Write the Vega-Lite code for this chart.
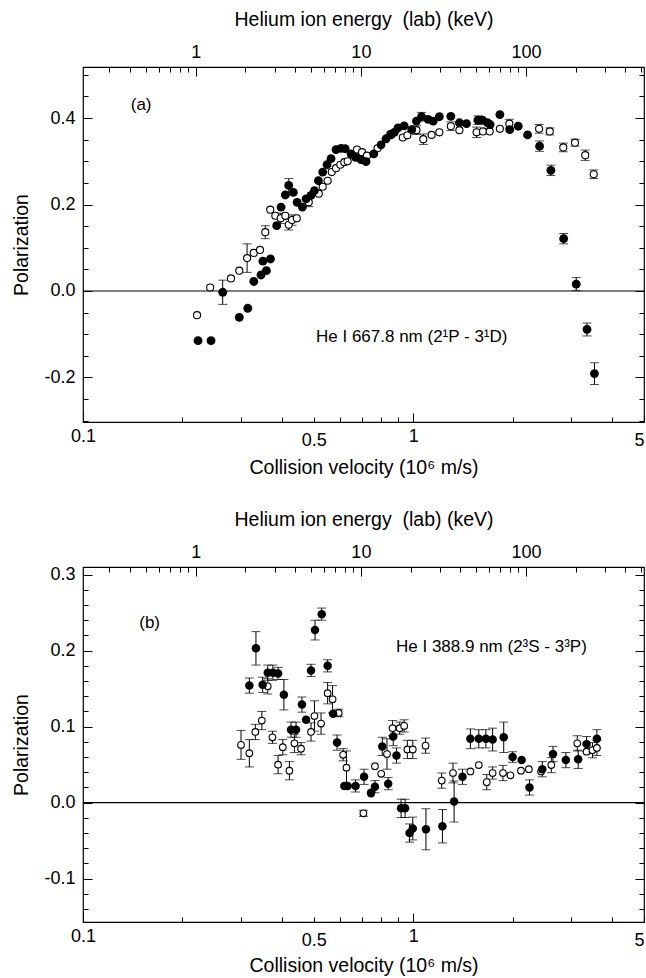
{
  "$schema": "https://vega.github.io/schema/vega-lite/v6.json",
  "padding": {"left": 11, "top": 8, "right": 0, "bottom": 0},
  "background": "white",
  "spacing": 30,
  "config": {
    "font": "Liberation Sans",
    "view": {"stroke": "black", "strokeWidth": 1.2},
    "axis": {"domain": false, "grid": false, "tickColor": "black", "tickWidth": 1, "labelColor": "black", "titleColor": "black", "labelFont": "Liberation Sans", "titleFont": "Liberation Sans", "labelFontSize": 18, "titleFontSize": 19.5, "titleFontWeight": "normal", "labelOverlap": false, "labelBound": false, "labelFlush": false}
  },
  "datasets": {
    "a": [
      {"v": 0.2215, "p": -0.056, "e": 0, "s": "o"},
      {"v": 0.2427, "p": 0.008, "e": 0, "s": "o"},
      {"v": 0.2806, "p": 0.029, "e": 0, "s": "o"},
      {"v": 0.2974, "p": 0.047, "e": 0, "s": "o"},
      {"v": 0.314, "p": 0.076, "e": 0.033, "s": "o"},
      {"v": 0.329, "p": 0.088, "e": 0, "s": "o"},
      {"v": 0.3436, "p": 0.095, "e": 0, "s": "o"},
      {"v": 0.3565, "p": 0.136, "e": 0.015, "s": "o"},
      {"v": 0.369, "p": 0.188, "e": 0, "s": "o"},
      {"v": 0.3824, "p": 0.174, "e": 0, "s": "o"},
      {"v": 0.397, "p": 0.168, "e": 0.012, "s": "o"},
      {"v": 0.41, "p": 0.174, "e": 0, "s": "o"},
      {"v": 0.4198, "p": 0.153, "e": 0.012, "s": "o"},
      {"v": 0.4296, "p": 0.164, "e": 0.012, "s": "o"},
      {"v": 0.444, "p": 0.168, "e": 0, "s": "o"},
      {"v": 0.4827, "p": 0.205, "e": 0.01, "s": "o"},
      {"v": 0.5176, "p": 0.225, "e": 0, "s": "o"},
      {"v": 0.532, "p": 0.241, "e": 0, "s": "o"},
      {"v": 0.5506, "p": 0.255, "e": 0, "s": "o"},
      {"v": 0.5666, "p": 0.275, "e": 0, "s": "o"},
      {"v": 0.5838, "p": 0.284, "e": 0, "s": "o"},
      {"v": 0.6016, "p": 0.292, "e": 0, "s": "o"},
      {"v": 0.6186, "p": 0.298, "e": 0, "s": "o"},
      {"v": 0.633, "p": 0.3, "e": 0, "s": "o"},
      {"v": 0.676, "p": 0.327, "e": 0, "s": "o"},
      {"v": 0.7, "p": 0.321, "e": 0, "s": "o"},
      {"v": 0.7245, "p": 0.313, "e": 0, "s": "o"},
      {"v": 0.78, "p": 0.33, "e": 0, "s": "o"},
      {"v": 0.853, "p": 0.363, "e": 0, "s": "o"},
      {"v": 0.93, "p": 0.355, "e": 0, "s": "o"},
      {"v": 0.96, "p": 0.36, "e": 0, "s": "o"},
      {"v": 1.023, "p": 0.372, "e": 0.01, "s": "o"},
      {"v": 1.073, "p": 0.351, "e": 0.012, "s": "o"},
      {"v": 1.137, "p": 0.361, "e": 0, "s": "o"},
      {"v": 1.2, "p": 0.367, "e": 0, "s": "o"},
      {"v": 1.3, "p": 0.381, "e": 0.01, "s": "o"},
      {"v": 1.38, "p": 0.372, "e": 0, "s": "o"},
      {"v": 1.556, "p": 0.367, "e": 0.012, "s": "o"},
      {"v": 1.627, "p": 0.369, "e": 0, "s": "o"},
      {"v": 1.705, "p": 0.369, "e": 0, "s": "o"},
      {"v": 1.83, "p": 0.375, "e": 0, "s": "o"},
      {"v": 1.955, "p": 0.387, "e": 0.01, "s": "o"},
      {"v": 2.406, "p": 0.375, "e": 0.01, "s": "o"},
      {"v": 2.592, "p": 0.369, "e": 0.008, "s": "o"},
      {"v": 2.848, "p": 0.332, "e": 0.01, "s": "o"},
      {"v": 3.09, "p": 0.343, "e": 0.008, "s": "o"},
      {"v": 3.319, "p": 0.314, "e": 0.012, "s": "o"},
      {"v": 3.521, "p": 0.27, "e": 0.01, "s": "o"},
      {"v": 0.223, "p": -0.115, "e": 0, "s": "f"},
      {"v": 0.2442, "p": -0.115, "e": 0, "s": "f"},
      {"v": 0.2649, "p": -0.003, "e": 0.028, "s": "f"},
      {"v": 0.2974, "p": -0.061, "e": 0, "s": "f"},
      {"v": 0.3155, "p": -0.04, "e": 0, "s": "f"},
      {"v": 0.329, "p": 0.022, "e": 0, "s": "f"},
      {"v": 0.346, "p": 0.037, "e": 0, "s": "f"},
      {"v": 0.3593, "p": 0.047, "e": 0, "s": "f"},
      {"v": 0.3506, "p": 0.069, "e": 0, "s": "f"},
      {"v": 0.3696, "p": 0.074, "e": 0, "s": "f"},
      {"v": 0.386, "p": 0.151, "e": 0, "s": "f"},
      {"v": 0.398, "p": 0.194, "e": 0, "s": "f"},
      {"v": 0.41, "p": 0.222, "e": 0, "s": "f"},
      {"v": 0.4198, "p": 0.244, "e": 0.016, "s": "f"},
      {"v": 0.4335, "p": 0.228, "e": 0, "s": "f"},
      {"v": 0.445, "p": 0.205, "e": 0, "s": "f"},
      {"v": 0.4617, "p": 0.194, "e": 0, "s": "f"},
      {"v": 0.4737, "p": 0.213, "e": 0, "s": "f"},
      {"v": 0.4904, "p": 0.221, "e": 0, "s": "f"},
      {"v": 0.5022, "p": 0.232, "e": 0, "s": "f"},
      {"v": 0.5164, "p": 0.255, "e": 0, "s": "f"},
      {"v": 0.532, "p": 0.275, "e": 0, "s": "f"},
      {"v": 0.5484, "p": 0.292, "e": 0, "s": "f"},
      {"v": 0.5638, "p": 0.306, "e": 0, "s": "f"},
      {"v": 0.5838, "p": 0.327, "e": 0, "s": "f"},
      {"v": 0.6045, "p": 0.33, "e": 0, "s": "f"},
      {"v": 0.622, "p": 0.329, "e": 0, "s": "f"},
      {"v": 0.6482, "p": 0.317, "e": 0, "s": "f"},
      {"v": 0.669, "p": 0.309, "e": 0, "s": "f"},
      {"v": 0.695, "p": 0.304, "e": 0, "s": "f"},
      {"v": 0.7197, "p": 0.299, "e": 0, "s": "f"},
      {"v": 0.7595, "p": 0.317, "e": 0, "s": "f"},
      {"v": 0.799, "p": 0.338, "e": 0, "s": "f"},
      {"v": 0.8274, "p": 0.352, "e": 0, "s": "f"},
      {"v": 0.857, "p": 0.361, "e": 0, "s": "f"},
      {"v": 0.877, "p": 0.367, "e": 0, "s": "f"},
      {"v": 0.8995, "p": 0.377, "e": 0, "s": "f"},
      {"v": 0.939, "p": 0.382, "e": 0, "s": "f"},
      {"v": 0.99, "p": 0.373, "e": 0, "s": "f"},
      {"v": 1.023, "p": 0.393, "e": 0, "s": "f"},
      {"v": 1.06, "p": 0.403, "e": 0.01, "s": "f"},
      {"v": 1.11, "p": 0.397, "e": 0, "s": "f"},
      {"v": 1.15, "p": 0.393, "e": 0, "s": "f"},
      {"v": 1.2, "p": 0.403, "e": 0, "s": "f"},
      {"v": 1.3, "p": 0.404, "e": 0, "s": "f"},
      {"v": 1.38, "p": 0.389, "e": 0, "s": "f"},
      {"v": 1.45, "p": 0.387, "e": 0, "s": "f"},
      {"v": 1.57, "p": 0.395, "e": 0.01, "s": "f"},
      {"v": 1.62, "p": 0.395, "e": 0, "s": "f"},
      {"v": 1.68, "p": 0.389, "e": 0, "s": "f"},
      {"v": 1.71, "p": 0.385, "e": 0, "s": "f"},
      {"v": 1.83, "p": 0.408, "e": 0, "s": "f"},
      {"v": 1.96, "p": 0.373, "e": 0, "s": "f"},
      {"v": 2.08, "p": 0.381, "e": 0, "s": "f"},
      {"v": 2.22, "p": 0.361, "e": 0, "s": "f"},
      {"v": 2.414, "p": 0.335, "e": 0.012, "s": "f"},
      {"v": 2.612, "p": 0.279, "e": 0.012, "s": "f"},
      {"v": 2.855, "p": 0.121, "e": 0.012, "s": "f"},
      {"v": 3.117, "p": 0.016, "e": 0.015, "s": "f"},
      {"v": 3.36, "p": -0.089, "e": 0.015, "s": "f"},
      {"v": 3.539, "p": -0.191, "e": 0.025, "s": "f"}
    ],
    "b": [
      {"v": 0.319, "p": 0.154, "e": 0.01, "s": "f"},
      {"v": 0.334, "p": 0.203, "e": 0.022, "s": "f"},
      {"v": 0.35, "p": 0.155, "e": 0.01, "s": "f"},
      {"v": 0.3627, "p": 0.171, "e": 0.01, "s": "f"},
      {"v": 0.376, "p": 0.171, "e": 0.01, "s": "f"},
      {"v": 0.3898, "p": 0.17, "e": 0.008, "s": "f"},
      {"v": 0.4059, "p": 0.142, "e": 0.02, "s": "f"},
      {"v": 0.4266, "p": 0.096, "e": 0.01, "s": "f"},
      {"v": 0.4418, "p": 0.096, "e": 0.01, "s": "f"},
      {"v": 0.4604, "p": 0.129, "e": 0.01, "s": "f"},
      {"v": 0.4737, "p": 0.109, "e": 0, "s": "f"},
      {"v": 0.4904, "p": 0.174, "e": 0.008, "s": "f"},
      {"v": 0.5043, "p": 0.227, "e": 0.013, "s": "f"},
      {"v": 0.5284, "p": 0.248, "e": 0.008, "s": "f"},
      {"v": 0.5506, "p": 0.18, "e": 0.008, "s": "f"},
      {"v": 0.572, "p": 0.117, "e": 0, "s": "f"},
      {"v": 0.588, "p": 0.079, "e": 0.01, "s": "f"},
      {"v": 0.6186, "p": 0.022, "e": 0, "s": "f"},
      {"v": 0.633, "p": 0.022, "e": 0, "s": "f"},
      {"v": 0.669, "p": 0.022, "e": 0.008, "s": "f"},
      {"v": 0.71, "p": 0.034, "e": 0.01, "s": "f"},
      {"v": 0.745, "p": 0.013, "e": 0, "s": "f"},
      {"v": 0.766, "p": 0.021, "e": 0.008, "s": "f"},
      {"v": 0.806, "p": 0.074, "e": 0.012, "s": "f"},
      {"v": 0.84, "p": 0.025, "e": 0.008, "s": "f"},
      {"v": 0.87, "p": 0.087, "e": 0.012, "s": "f"},
      {"v": 0.89, "p": 0.062, "e": 0.01, "s": "f"},
      {"v": 0.919, "p": -0.0075, "e": 0.012, "s": "f"},
      {"v": 0.945, "p": -0.0075, "e": 0.012, "s": "f"},
      {"v": 0.975, "p": -0.04, "e": 0.012, "s": "f"},
      {"v": 0.997, "p": -0.034, "e": 0.015, "s": "f"},
      {"v": 1.093, "p": -0.035, "e": 0.027, "s": "f"},
      {"v": 1.226, "p": -0.031, "e": 0.022, "s": "f"},
      {"v": 1.33, "p": 0.0015, "e": 0.027, "s": "f"},
      {"v": 1.41, "p": 0.034, "e": 0.01, "s": "f"},
      {"v": 1.49, "p": 0.084, "e": 0.013, "s": "f"},
      {"v": 1.58, "p": 0.084, "e": 0.012, "s": "f"},
      {"v": 1.66, "p": 0.084, "e": 0.012, "s": "f"},
      {"v": 1.74, "p": 0.083, "e": 0.015, "s": "f"},
      {"v": 1.88, "p": 0.086, "e": 0.02, "s": "f"},
      {"v": 2.0, "p": 0.06, "e": 0.007, "s": "f"},
      {"v": 2.13, "p": 0.056, "e": 0, "s": "f"},
      {"v": 2.25, "p": 0.02, "e": 0.01, "s": "f"},
      {"v": 2.46, "p": 0.044, "e": 0.01, "s": "f"},
      {"v": 2.65, "p": 0.064, "e": 0.01, "s": "f"},
      {"v": 2.9, "p": 0.056, "e": 0.01, "s": "f"},
      {"v": 3.16, "p": 0.057, "e": 0.012, "s": "f"},
      {"v": 3.35, "p": 0.077, "e": 0.01, "s": "f"},
      {"v": 3.6, "p": 0.084, "e": 0.012, "s": "f"},
      {"v": 0.301, "p": 0.076, "e": 0.019, "s": "o"},
      {"v": 0.319, "p": 0.065, "e": 0.018, "s": "o"},
      {"v": 0.3326, "p": 0.093, "e": 0.01, "s": "o"},
      {"v": 0.348, "p": 0.108, "e": 0.012, "s": "o"},
      {"v": 0.3627, "p": 0.153, "e": 0.01, "s": "o"},
      {"v": 0.3747, "p": 0.086, "e": 0.008, "s": "o"},
      {"v": 0.3898, "p": 0.05, "e": 0.012, "s": "o"},
      {"v": 0.4028, "p": 0.073, "e": 0.01, "s": "o"},
      {"v": 0.4217, "p": 0.042, "e": 0.012, "s": "o"},
      {"v": 0.4368, "p": 0.078, "e": 0.012, "s": "o"},
      {"v": 0.4574, "p": 0.071, "e": 0.008, "s": "o"},
      {"v": 0.4904, "p": 0.093, "e": 0.012, "s": "o"},
      {"v": 0.5022, "p": 0.114, "e": 0.02, "s": "o"},
      {"v": 0.526, "p": 0.104, "e": 0.014, "s": "o"},
      {"v": 0.5506, "p": 0.144, "e": 0.014, "s": "o"},
      {"v": 0.57, "p": 0.136, "e": 0.018, "s": "o"},
      {"v": 0.595, "p": 0.118, "e": 0.005, "s": "o"},
      {"v": 0.6134, "p": 0.063, "e": 0.008, "s": "o"},
      {"v": 0.628, "p": 0.046, "e": 0.022, "s": "o"},
      {"v": 0.7066, "p": -0.014, "e": 0.004, "s": "o"},
      {"v": 0.745, "p": 0.012, "e": 0, "s": "o"},
      {"v": 0.766, "p": 0.048, "e": 0, "s": "o"},
      {"v": 0.8, "p": 0.038, "e": 0, "s": "o"},
      {"v": 0.833, "p": 0.064, "e": 0.02, "s": "o"},
      {"v": 0.866, "p": 0.098, "e": 0.01, "s": "o"},
      {"v": 0.91, "p": 0.098, "e": 0.008, "s": "o"},
      {"v": 0.939, "p": 0.101, "e": 0.008, "s": "o"},
      {"v": 0.96, "p": 0.07, "e": 0.012, "s": "o"},
      {"v": 0.997, "p": 0.07, "e": 0.012, "s": "o"},
      {"v": 1.09, "p": 0.075, "e": 0.01, "s": "o"},
      {"v": 1.22, "p": 0.029, "e": 0.01, "s": "o"},
      {"v": 1.32, "p": 0.039, "e": 0.013, "s": "o"},
      {"v": 1.49, "p": 0.041, "e": 0, "s": "o"},
      {"v": 1.58, "p": 0.0495, "e": 0, "s": "o"},
      {"v": 1.67, "p": 0.027, "e": 0.01, "s": "o"},
      {"v": 1.74, "p": 0.039, "e": 0.008, "s": "o"},
      {"v": 1.87, "p": 0.039, "e": 0.01, "s": "o"},
      {"v": 1.97, "p": 0.036, "e": 0, "s": "o"},
      {"v": 2.12, "p": 0.042, "e": 0, "s": "o"},
      {"v": 2.24, "p": 0.044, "e": 0, "s": "o"},
      {"v": 2.44, "p": 0.041, "e": 0, "s": "o"},
      {"v": 2.62, "p": 0.0495, "e": 0.01, "s": "o"},
      {"v": 3.14, "p": 0.078, "e": 0.01, "s": "o"},
      {"v": 3.35, "p": 0.067, "e": 0, "s": "o"},
      {"v": 3.49, "p": 0.069, "e": 0.01, "s": "o"},
      {"v": 3.6, "p": 0.072, "e": 0.01, "s": "o"}
    ],
    "alab": [
      {"v": 0.1395, "p": 0.43, "t": "(a)"},
      {"v": 0.5077, "p": -0.107, "t": "He I 667.8 nm (2¹P - 3¹D)"}
    ],
    "blab": [
      {"v": 0.148, "p": 0.236, "t": "(b)"},
      {"v": 0.887, "p": 0.205, "t": "He I 388.9 nm (2³S - 3³P)"}
    ],
    "ea": [{"E": 1, "y": 0}]
  },
  "vconcat": [
    {
      "width": 561,
      "height": 355,
      "layer": [
        {
          "data": {"name": "ea"},
          "mark": {"type": "rule", "color": "black", "strokeWidth": 1.2},
          "encoding": {"y": {"datum": 0, "type": "quantitative", "axis": null}}
        },
        {
          "encoding": {
            "x": {"field": "v", "type": "quantitative", "scale": {"type": "log", "domain": [0.1, 5], "nice": false},
              "axis": {"orient": "bottom", "values": [0.1, 0.2, 0.3, 0.4, 0.5, 0.6, 0.7, 0.8, 0.9, 1, 2, 3, 4, 5],
                "labelExpr": "datum.value == 0.1 ? '0.1' : datum.value == 0.5 ? '0.5' : datum.value == 1 ? '1' : datum.value == 5 ? '5' : ''",
                "labelAlign": {"condition": {"test": "datum.value == 5", "value": "right"}, "value": "center"},
                "tickSize": {"condition": {"test": "datum.value == 1 || datum.value == 0.1", "value": -9}, "value": -5},
                "labelPadding": 14, "title": "Collision velocity (10⁶ m/s)", "titlePadding": 9}},
            "y": {"field": "p", "type": "quantitative", "scale": {"domain": [-0.303, 0.518], "nice": false, "zero": false},
              "axis": {"orient": "left", "values": [-0.3, -0.25, -0.2, -0.15, -0.1, -0.05, 0, 0.05, 0.1, 0.15, 0.2, 0.25, 0.3, 0.35, 0.4, 0.45, 0.5],
                "labelExpr": "datum.value == -0.2 ? '-0.2' : datum.value == 0 ? '0.0' : datum.value == 0.2 ? '0.2' : datum.value == 0.4 ? '0.4' : ''",
                "tickSize": {"condition": {"test": "datum.value == -0.2 || datum.value == 0 || datum.value == 0.2 || datum.value == 0.4", "value": -9}, "value": -5},
                "labelPadding": 17, "title": "Polarization", "titlePadding": 12}}
          },
          "layer": [
            {
              "data": {"name": "a"},
              "transform": [{"filter": "datum.e > 0"}],
              "mark": {"type": "errorbar", "color": "black", "thickness": 1, "ticks": {"size": 9, "color": "black"}},
              "encoding": {"yError": {"field": "e"}}
            },
            {
              "data": {"name": "a"},
              "transform": [{"filter": "datum.s == 'o'"}],
              "mark": {"type": "point", "shape": "circle", "filled": false, "fill": "white", "fillOpacity": 1, "stroke": "black", "strokeWidth": 1.1, "size": 50, "opacity": 1}
            },
            {
              "data": {"name": "a"},
              "transform": [{"filter": "datum.s == 'f'"}],
              "mark": {"type": "point", "shape": "circle", "filled": true, "color": "black", "size": 78, "opacity": 1}
            },
            {
              "data": {"name": "alab"},
              "mark": {"type": "text", "align": "left", "baseline": "middle", "fontSize": 17, "font": "Liberation Sans", "color": "black"},
              "encoding": {"text": {"field": "t"}}
            }
          ]
        },
        {
          "data": {"name": "ea"},
          "mark": {"type": "point", "opacity": 0},
          "encoding": {
            "x": {"field": "E", "type": "quantitative", "scale": {"type": "log", "domain": [0.20742, 518.55], "nice": false},
              "axis": {"orient": "top", "values": [0.3, 0.4, 0.5, 0.6, 0.7, 0.8, 0.9, 1, 2, 3, 4, 5, 6, 7, 8, 9, 10, 20, 30, 40, 50, 60, 70, 80, 90, 100, 200, 300, 400, 500],
                "labelExpr": "datum.value == 1 ? '1' : datum.value == 10 ? '10' : datum.value == 100 ? '100' : ''",
                "tickSize": {"condition": {"test": "datum.value == 1 || datum.value == 10 || datum.value == 100", "value": -9}, "value": -5},
                "labelPadding": 15, "title": "Helium ion energy\u00a0 (lab) (keV)", "titlePadding": 10}},
            "y": {"field": "y", "type": "quantitative",
              "axis": {"orient": "right", "values": [-0.3, -0.25, -0.2, -0.15, -0.1, -0.05, 0, 0.05, 0.1, 0.15, 0.2, 0.25, 0.3, 0.35, 0.4, 0.45, 0.5], "labels": false, "title": null,
                "tickSize": {"condition": {"test": "datum.value == -0.2 || datum.value == 0 || datum.value == 0.2 || datum.value == 0.4", "value": -9}, "value": -5}}}
          }
        }
      ],
      "resolve": {"scale": {"x": "independent"}, "axis": {"x": "independent", "y": "independent"}}
    },
    {
      "width": 561,
      "height": 355,
      "layer": [
        {
          "data": {"name": "ea"},
          "mark": {"type": "rule", "color": "black", "strokeWidth": 1.2},
          "encoding": {"y": {"datum": 0, "type": "quantitative", "axis": null}}
        },
        {
          "encoding": {
            "x": {"field": "v", "type": "quantitative", "scale": {"type": "log", "domain": [0.1, 5], "nice": false},
              "axis": {"orient": "bottom", "values": [0.1, 0.2, 0.3, 0.4, 0.5, 0.6, 0.7, 0.8, 0.9, 1, 2, 3, 4, 5],
                "labelExpr": "datum.value == 0.1 ? '0.1' : datum.value == 0.5 ? '0.5' : datum.value == 1 ? '1' : datum.value == 5 ? '5' : ''",
                "labelAlign": {"condition": {"test": "datum.value == 5", "value": "right"}, "value": "center"},
                "tickSize": {"condition": {"test": "datum.value == 1 || datum.value == 0.1", "value": -9}, "value": -5},
                "labelPadding": 14, "title": "Collision velocity (10⁶ m/s)", "titlePadding": 7}},
            "y": {"field": "p", "type": "quantitative", "scale": {"domain": [-0.157, 0.31], "nice": false, "zero": false},
              "axis": {"orient": "left", "values": [-0.14, -0.12, -0.1, -0.08, -0.06, -0.04, -0.02, 0, 0.02, 0.04, 0.06, 0.08, 0.1, 0.12, 0.14, 0.16, 0.18, 0.2, 0.22, 0.24, 0.26, 0.28, 0.3],
                "labelExpr": "datum.value == -0.1 ? '-0.1' : datum.value == 0 ? '0.0' : datum.value == 0.1 ? '0.1' : datum.value == 0.2 ? '0.2' : datum.value == 0.3 ? '0.3' : ''",
                "tickSize": {"condition": {"test": "datum.value == -0.1 || datum.value == 0 || datum.value == 0.1 || datum.value == 0.2 || datum.value == 0.3", "value": -9}, "value": -5},
                "labelPadding": 17, "title": "Polarization", "titlePadding": 12}}
          },
          "layer": [
            {
              "data": {"name": "b"},
              "transform": [{"filter": "datum.e > 0"}],
              "mark": {"type": "errorbar", "color": "black", "thickness": 1, "ticks": {"size": 9, "color": "black"}},
              "encoding": {"yError": {"field": "e"}}
            },
            {
              "data": {"name": "b"},
              "transform": [{"filter": "datum.s == 'o'"}],
              "mark": {"type": "point", "shape": "circle", "filled": false, "fill": "white", "fillOpacity": 1, "stroke": "black", "strokeWidth": 1.1, "size": 44, "opacity": 1}
            },
            {
              "data": {"name": "b"},
              "transform": [{"filter": "datum.s == 'f'"}],
              "mark": {"type": "point", "shape": "circle", "filled": true, "color": "black", "size": 72, "opacity": 1}
            },
            {
              "data": {"name": "blab"},
              "mark": {"type": "text", "align": "left", "baseline": "middle", "fontSize": 17, "font": "Liberation Sans", "color": "black"},
              "encoding": {"text": {"field": "t"}}
            }
          ]
        },
        {
          "data": {"name": "ea"},
          "mark": {"type": "point", "opacity": 0},
          "encoding": {
            "x": {"field": "E", "type": "quantitative", "scale": {"type": "log", "domain": [0.20742, 518.55], "nice": false},
              "axis": {"orient": "top", "values": [0.3, 0.4, 0.5, 0.6, 0.7, 0.8, 0.9, 1, 2, 3, 4, 5, 6, 7, 8, 9, 10, 20, 30, 40, 50, 60, 70, 80, 90, 100, 200, 300, 400, 500],
                "labelExpr": "datum.value == 1 ? '1' : datum.value == 10 ? '10' : datum.value == 100 ? '100' : ''",
                "tickSize": {"condition": {"test": "datum.value == 1 || datum.value == 10 || datum.value == 100", "value": -9}, "value": -5},
                "labelPadding": 15, "title": "Helium ion energy\u00a0 (lab) (keV)", "titlePadding": 10}},
            "y": {"field": "y", "type": "quantitative",
              "axis": {"orient": "right", "values": [-0.14, -0.12, -0.1, -0.08, -0.06, -0.04, -0.02, 0, 0.02, 0.04, 0.06, 0.08, 0.1, 0.12, 0.14, 0.16, 0.18, 0.2, 0.22, 0.24, 0.26, 0.28, 0.3], "labels": false, "title": null,
                "tickSize": {"condition": {"test": "datum.value == -0.1 || datum.value == 0 || datum.value == 0.1 || datum.value == 0.2 || datum.value == 0.3", "value": -9}, "value": -5}}}
          }
        }
      ],
      "resolve": {"scale": {"x": "independent"}, "axis": {"x": "independent", "y": "independent"}}
    }
  ]
}
